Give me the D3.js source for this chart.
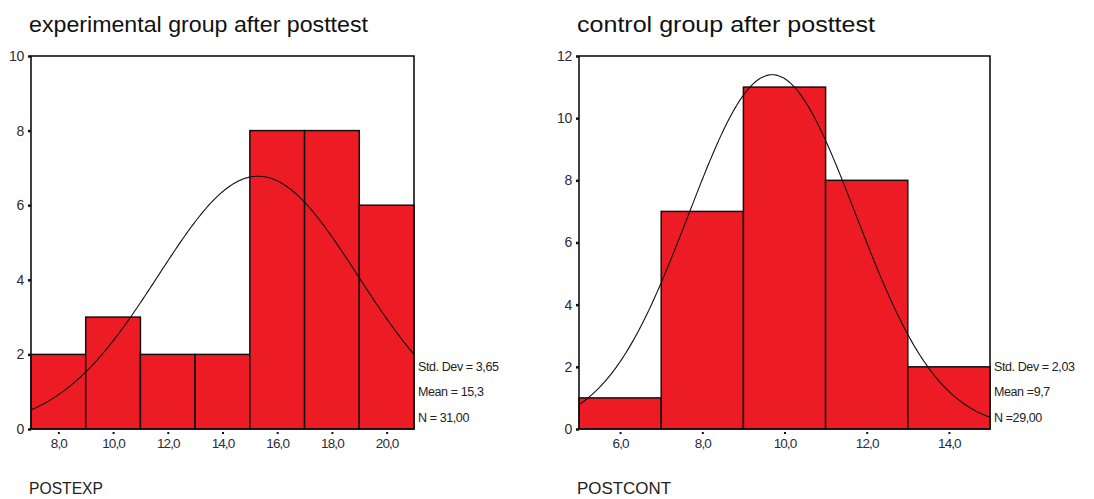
<!DOCTYPE html>
<html><head><meta charset="utf-8">
<script src="https://cdn.jsdelivr.net/npm/d3@7"></script>
<style>body{margin:0;background:#fff}svg{display:block}</style>
</head><body><svg id="c" width="1094" height="499"></svg>
<script>
// ---- data ----
const expBinCenters = [8, 10, 12, 14, 16, 18, 20];
const expCounts = [2, 3, 2, 2, 8, 8, 6];
const expTicksX = ["8,0","10,0","12,0","14,0","16,0","18,0","20,0"];
const expTicksY = [0, 2, 4, 6, 8, 10];
const expStats = { sd: 3.65, mean: 15.3, n: 31 };
const expStatLabels = ["Std. Dev = 3,65", "Mean = 15,3", "N = 31,00"];

const conBinCenters = [6, 8, 10, 12, 14];
const conCounts = [1, 7, 11, 8, 2];
const conTicksX = ["6,0","8,0","10,0","12,0","14,0"];
const conTicksY = [0, 2, 4, 6, 8, 10, 12];
const conStats = { sd: 2.03, mean: 9.7, n: 29 };
const conStatLabels = ["Std. Dev = 2,03", "Mean =9,7", "N =29,00"];

const binWidth = 2;

const svg = d3.select("#c");
const FONT = "Liberation Sans, Arial, sans-serif";

function panel(o) {
  const g = svg.append("g");
  const x = d3.scaleLinear().domain(o.xDomain).range([o.left, o.right]);
  const y = d3.scaleLinear().domain([0, o.yMax]).range([o.bottom, o.top]);

  // title
  g.append("text").attr("x", o.left - 2).attr("y", 32)
    .attr("font-family", FONT).attr("font-size", 22).attr("fill", "#111")
    .attr("textLength", o.titleLen).attr("lengthAdjust", "spacingAndGlyphs")
    .text(o.title);

  // bars
  g.selectAll("rect.bar").data(o.centers).join("rect")
    .attr("x", (d) => x(d - binWidth / 2))
    .attr("y", (d, i) => y(o.counts[i]))
    .attr("width", (d) => x(d + binWidth / 2) - x(d - binWidth / 2))
    .attr("height", (d, i) => y(0) - y(o.counts[i]))
    .attr("fill", "#ed1c24").attr("stroke", "#111").attr("stroke-width", 1.5);

  // normal curve
  const s = o.stats;
  const scale = s.n * binWidth / (s.sd * Math.sqrt(2 * Math.PI));
  const pts = d3.range(o.xDomain[0], o.xDomain[1] + 0.001, 0.05)
    .map((v) => [v, scale * Math.exp(-0.5 * Math.pow((v - s.mean) / s.sd, 2))]);
  g.append("path").datum(pts)
    .attr("d", d3.line().x((d) => x(d[0])).y((d) => y(d[1])))
    .attr("fill", "none").attr("stroke", "#111").attr("stroke-width", 1.1);

  // frame
  g.append("rect").attr("x", o.left).attr("y", o.top)
    .attr("width", o.right - o.left).attr("height", o.bottom - o.top)
    .attr("fill", "none").attr("stroke", "#111").attr("stroke-width", 1.6);

  // y axis
  const ya = d3.axisLeft(y).tickValues(o.yTicks).tickSize(3).tickPadding(4);
  const yg = g.append("g").attr("transform", `translate(${o.left},0)`).call(ya);
  yg.select(".domain").remove();
  yg.selectAll("line").attr("stroke", "#111").attr("stroke-width", 2.5);
  yg.selectAll("text").attr("font-family", FONT).attr("font-size", 14)
    .attr("letter-spacing", -0.3).attr("fill", "#2b2b3a");

  // x axis
  const xa = d3.axisBottom(x).tickValues(o.centers).tickSize(3).tickPadding(5)
    .tickFormat((d, i) => o.xLabels[i]);
  const xg = g.append("g").attr("transform", `translate(0,${o.bottom + 1})`).call(xa);
  xg.select(".domain").remove();
  xg.selectAll("line").attr("stroke", "#111").attr("stroke-width", 2)
    .attr("y1", 2).attr("y2", 4);
  xg.selectAll("text").attr("font-family", FONT).attr("font-size", 13.5)
    .attr("letter-spacing", -0.9).attr("fill", "#2b2b3a");

  // stats
  o.statLabels.forEach((t, i) => {
    g.append("text").attr("x", o.right + 4).attr("y", 371 + i * 25.3)
      .attr("font-family", FONT).attr("font-size", 12.5).attr("letter-spacing", -0.4)
      .attr("fill", "#222")
      .text(t);
  });

  // variable label
  g.append("text").attr("x", o.left - 2).attr("y", 494)
    .attr("font-family", FONT).attr("font-size", 16.5).attr("fill", "#222")
    .attr("textLength", o.varLen).attr("lengthAdjust", "spacingAndGlyphs")
    .text(o.varName);
}

panel({ left: 31, right: 414, top: 56, bottom: 429, xDomain: [7, 21], yMax: 10,
  centers: expBinCenters, counts: expCounts, xLabels: expTicksX, yTicks: expTicksY,
  stats: expStats, statLabels: expStatLabels, title: "experimental group after posttest",
  titleLen: 339, varName: "POSTEXP", varLen: 74 });

panel({ left: 579, right: 990, top: 56, bottom: 429, xDomain: [5, 15], yMax: 12,
  centers: conBinCenters, counts: conCounts, xLabels: conTicksX, yTicks: conTicksY,
  stats: conStats, statLabels: conStatLabels, title: "control group after posttest",
  titleLen: 298, varName: "POSTCONT", varLen: 94 });
</script>
</body></html>
